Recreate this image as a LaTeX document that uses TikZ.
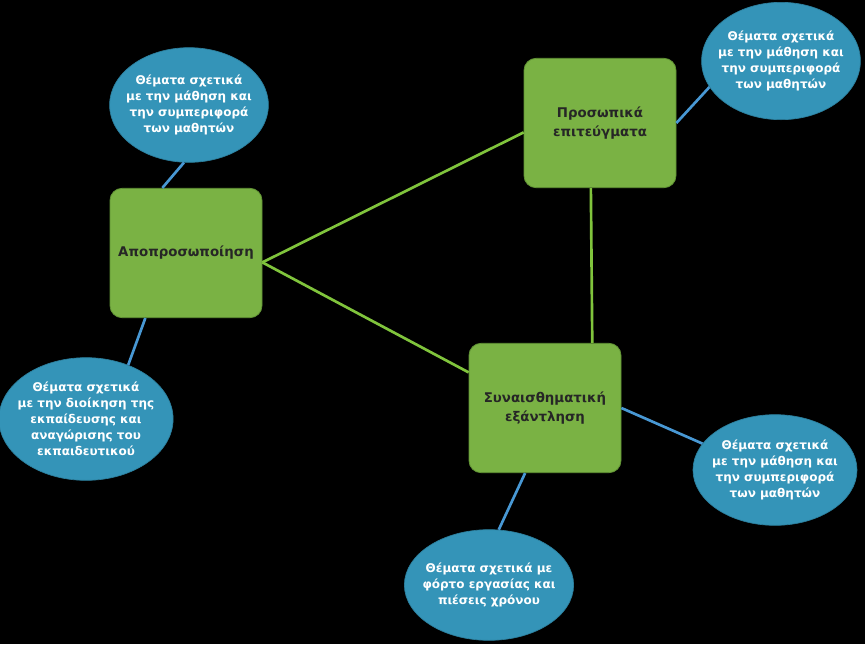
\documentclass[tikz,border=0pt]{standalone}
\usepackage{fontspec}
\setmainfont{DejaVu Sans}
\usetikzlibrary{shapes.geometric}
\definecolor{boxGreen}{RGB}{122,178,68}
\definecolor{boxEdge}{RGB}{96,146,52}
\definecolor{bubbleBlue}{RGB}{52,148,184}
\definecolor{linkGreen}{RGB}{128,196,60}
\definecolor{linkBlue}{RGB}{72,152,212}
\tikzset{
  themeBox/.style={rounded corners=9pt,draw=boxEdge,fill=boxGreen,line width=0.6pt,minimum width=114pt,minimum height=97pt,align=center,text=black!85,font=\fontsize{10}{14}\selectfont\bfseries},
  issueBubble/.style={ellipse,fill=bubbleBlue,draw=bubbleBlue!85!black,line width=0.5pt,inner xsep=-5pt,inner ysep=0pt,align=center,text=white,font=\fontsize{9}{12}\selectfont\bfseries},
  greenLink/.style={linkGreen,line width=2pt},
  blueLink/.style={linkBlue,line width=2pt}
}

\begin{document}
\begin{tikzpicture}[x=0.75pt,y=-0.75pt]
\fill[black] (0,0) rectangle (865,644);
\useasboundingbox (0,0) rectangle (865,644);
% theme boxes
\node[themeBox] (depers) at (186,253) {Αποπροσωποίηση};
\node[themeBox] (achieve) at (600,123) {Προσωπικά\\επιτεύγματα};
\node[themeBox] (exhaust) at (545,408) {Συναισθηματική\\εξάντληση};
% issue bubbles
\node[issueBubble,minimum width=118pt,minimum height=86pt] (issueA) at (189,105) {Θέματα σχετικά\\με την μάθηση και\\την συμπεριφορά\\των μαθητών};
\node[issueBubble,minimum width=118pt,minimum height=88pt] (issueB) at (781,61) {Θέματα σχετικά\\με την μάθηση και\\την συμπεριφορά\\των μαθητών};
\node[issueBubble,minimum width=122pt,minimum height=92pt] (issueC) at (86,419) {Θέματα σχετικά\\με την διοίκηση της\\εκπαίδευσης και\\αναγώρισης του\\εκπαιδευτικού};
\node[issueBubble,minimum width=123pt,minimum height=83pt] (issueD) at (775,470) {Θέματα σχετικά\\με την μάθηση και\\την συμπεριφορά\\των μαθητών};
\node[issueBubble,minimum width=118pt,minimum height=83pt] (issueE) at (489,585) {Θέματα σχετικά με\\φόρτο εργασίας και\\πιέσεις χρόνου};
% links between themes
\draw[greenLink] (depers.-7) -- (achieve.187);
\draw[greenLink] (depers.-7) -- (exhaust.155);
\draw[greenLink] (achieve.262) -- (exhaust.54);
% links to issues
\draw[blueLink] (issueA.265) -- (depers.110);
\draw[blueLink] (issueC.52) -- (depers.238);
\draw[blueLink] (issueB.200) -- (achieve.east);
\draw[blueLink] (issueD.160) -- (exhaust.east);
\draw[blueLink] (issueE.80) -- (exhaust.253);
\end{tikzpicture}
\end{document}
